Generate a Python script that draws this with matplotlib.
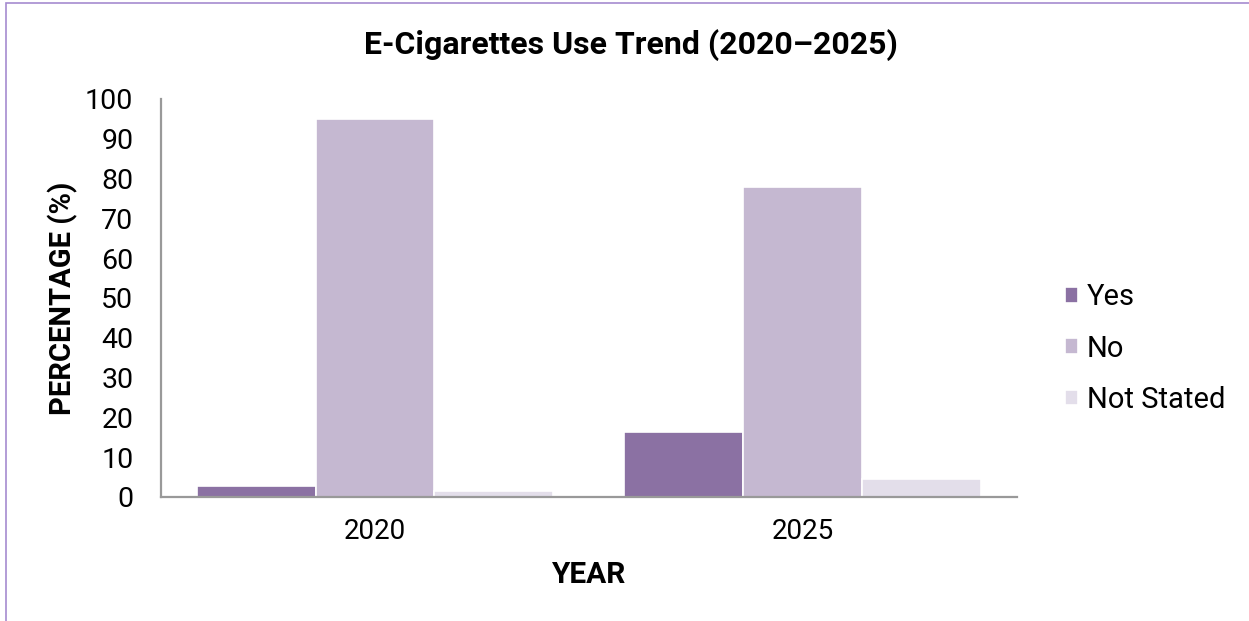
import matplotlib
matplotlib.use("Agg")
import matplotlib.pyplot as plt
import numpy as np
from matplotlib.patches import Rectangle

years = ["2020", "2025"]
answers = ["Yes", "No", "Not Stated"]
yes_pct = [2.7, 16.3]
no_pct = [95.0, 78.0]
not_stated_pct = [1.4, 4.6]
bar_colors = ["#8B71A3", "#C5B8D1", "#E3DEEA"]

plt.rcParams['font.family'] = ['Roboto', 'DejaVu Sans']

fig = plt.figure(figsize=(12.49, 6.21), dpi=100)
ax = fig.add_axes([0.129, 0.1997, 0.685, 0.6409])

x = np.arange(len(years))
w = 0.278
for i, (vals, lab) in enumerate(zip([yes_pct, no_pct, not_stated_pct], answers)):
    ax.bar(x + (i - 1) * w, vals, width=w, color=bar_colors[i],
           edgecolor="white", linewidth=1.2, label=lab, zorder=2)

ax.set_xlim(-0.5, 1.5)
ax.set_ylim(0, 100)
ax.set_yticks(np.arange(0, 101, 10))
ax.set_xticks(x)
ax.set_xticklabels(years)
ax.tick_params(axis='y', length=0, pad=20, labelsize=20.5)
ax.tick_params(axis='x', length=0, pad=15, labelsize=20)

for s in ["top", "right"]:
    ax.spines[s].set_visible(False)
for s in ["left", "bottom"]:
    ax.spines[s].set_color("#999999")
    ax.spines[s].set_linewidth(1.6)

ax.set_xlabel("YEAR", fontsize=21.5, fontweight="bold", labelpad=12)
ax.set_ylabel("PERCENTAGE (%)", fontsize=21, fontweight="bold", labelpad=5)

fig.text(0.505, 0.927, "E-Cigarettes Use Trend (2020\u20132025)",
         ha="center", va="center", fontsize=23, fontweight="bold")

fig.legend(loc="center left", bbox_to_anchor=(0.8527, 0.4385), frameon=False,
           fontsize=21, handlelength=0.45, handleheight=0.45,
           handletextpad=0.3, labelspacing=0.8, borderpad=0, borderaxespad=0)

# thin purple frame along the page edge
fig.patches.append(Rectangle((6 / 1249, -0.1), 1.2, 1.1 - 3 / 621,
                             transform=fig.transFigure, fill=False,
                             edgecolor="#A58BD0", linewidth=1.2))

fig.savefig("out.png", dpi=100, facecolor="white")
